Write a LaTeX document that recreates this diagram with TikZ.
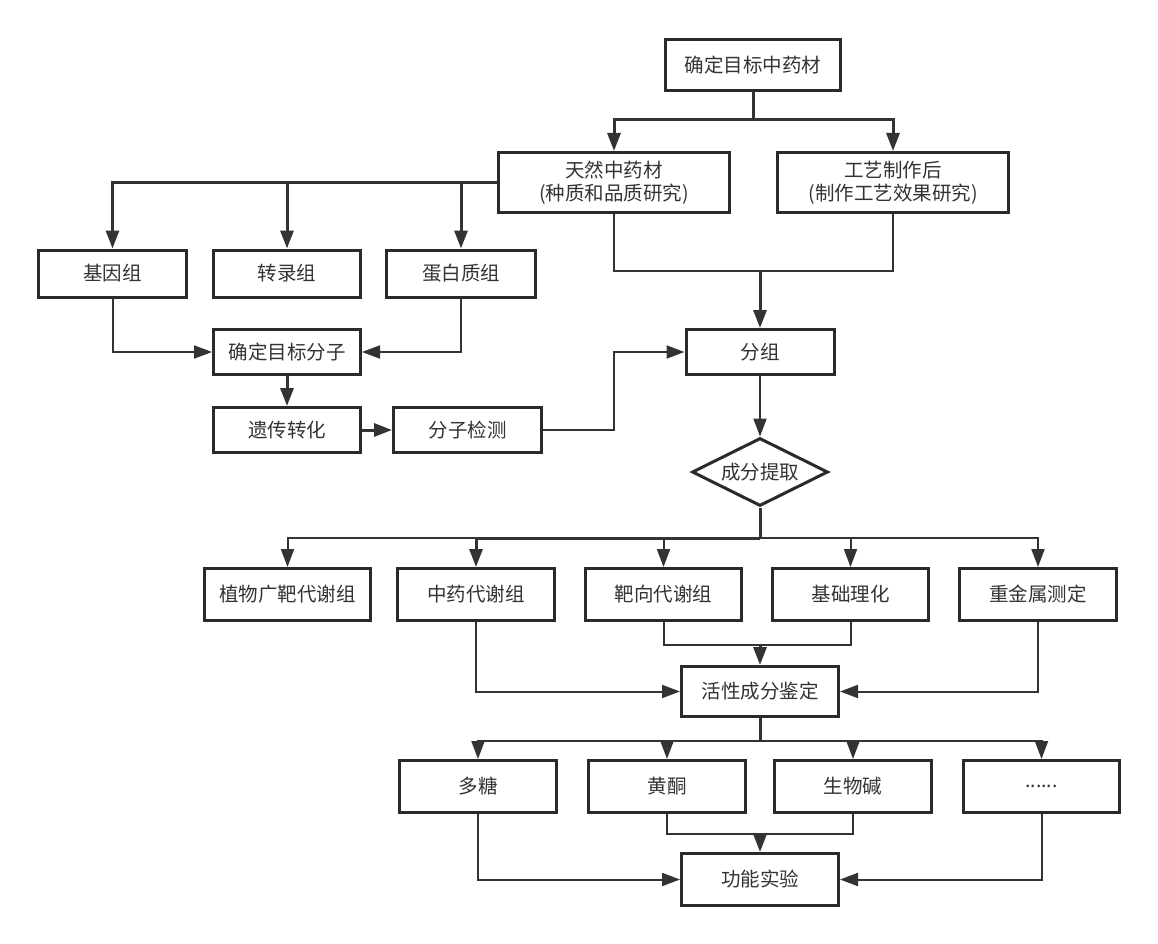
\documentclass[tikz,border=0pt]{standalone}
\usepackage{fontspec}
\setmainfont{Noto Sans CJK SC}
\usetikzlibrary{arrows.meta,shapes.geometric}
\definecolor{bd}{HTML}{262B30}
\definecolor{ln}{HTML}{333333}
\definecolor{tx}{HTML}{333333}
\begin{document}
\begin{tikzpicture}[x=1pt,y=-1pt,
  box/.style={draw=bd,line width=3pt,fill=white,inner sep=0pt,text=tx,
    font=\fontsize{19.5}{23}\selectfont,align=center},
  thinln/.style={draw=ln,line width=2pt},
  thickln/.style={draw=ln,line width=3pt},
  arr/.style={-{Triangle[length=18pt,width=13pt]}},
]
\useasboundingbox (0,0) rectangle (1158,944);
\fill[white] (0,0) rectangle (1158,944);

% nodes
\node[box,minimum width=175pt,minimum height=51pt] (top) at (753,65) {确定目标中药材};
\node[box,minimum width=231pt,minimum height=60pt] (tr) at (614,182.5) {天然中药材\\(种质和品质研究)};
\node[box,minimum width=231pt,minimum height=60pt] (pr) at (893,182.5) {工艺制作后\\(制作工艺效果研究)};

\node[box,minimum width=148pt,minimum height=47pt] (g1) at (112.5,273.5) {基因组};
\node[box,minimum width=147pt,minimum height=47pt] (g2) at (287,273.5) {转录组};
\node[box,minimum width=149pt,minimum height=47pt] (g3) at (461,273.5) {蛋白质组};

\node[box,minimum width=147pt,minimum height=45pt] (mol) at (287,352) {确定目标分子};
\node[box,minimum width=147pt,minimum height=45pt] (gen) at (287,430) {遗传转化};
\node[box,minimum width=148pt,minimum height=45pt] (det) at (467.5,430) {分子检测};

\node[box,minimum width=148pt,minimum height=45pt] (grp) at (760,352) {分组};
\node[box,diamond,aspect=2,minimum width=136pt,minimum height=68pt] (dia) at (760,472) {成分提取};

\node[box,minimum width=166pt,minimum height=52pt] (m1) at (287.5,594.5) {植物广靶代谢组};
\node[box,minimum width=157pt,minimum height=52pt] (m2) at (476,594.5) {中药代谢组};
\node[box,minimum width=156pt,minimum height=52pt] (m3) at (663.5,594.5) {靶向代谢组};
\node[box,minimum width=156pt,minimum height=52pt] (m4) at (850.5,594.5) {基础理化};
\node[box,minimum width=157pt,minimum height=52pt] (m5) at (1038,594.5) {重金属测定};

\node[box,minimum width=157pt,minimum height=50pt] (act) at (760,691.5) {活性成分鉴定};

\node[box,minimum width=157pt,minimum height=52pt] (b1) at (478,786.5) {多糖};
\node[box,minimum width=157pt,minimum height=52pt] (b2) at (667,786.5) {黄酮};
\node[box,minimum width=157pt,minimum height=52pt] (b3) at (853,786.5) {生物碱};
\node[box,minimum width=156pt,minimum height=52pt] (b4) at (1041.5,786.5) {......};

\node[box,minimum width=157pt,minimum height=52pt] (fun) at (760,879.5) {功能实验};

% junctions
\coordinate (j1) at (760,271);
\coordinate (j2) at (760,538);
\coordinate (j3) at (760,645);
\coordinate (j4) at (760,741);
\coordinate (j5) at (760,834);

% connectors
\draw[thickln,arr] (top.south) -- ++(0,28) -| (tr.north);
\draw[thickln,arr] (top.south) -- ++(0,28) -| (pr.north);

\draw[thickln,arr] (tr.west) -| (g1.north);
\draw[thickln,arr] (tr.west) -| (g2.north);
\draw[thickln,arr] (tr.west) -| (g3.north);

\draw[thinln,arr] (g1.south) |- (mol.west);
\draw[thinln,arr] (g3.south) |- (mol.east);
\draw[thickln,arr] (mol.south) -- (gen.north);
\draw[thickln,arr] (gen.east) -- (det.west);
\draw[thinln,arr] (det.east) -- ++(71,0) |- (grp.west);

\draw[thinln] (tr.south) |- (j1);
\draw[thinln] (pr.south) |- (j1);
\draw[thickln,arr] (j1) -- (grp.north);

\draw[thinln,arr] (grp.south) -- (dia.north);
\draw[thickln] (dia.south) -- (j2);
\draw[thinln,arr] (j2) -| (m1.north);
\draw[thickln,arr] (j2) -| (m2.north);
\draw[thinln,arr] (j2) -| (m3.north);
\draw[thinln,arr] (j2) -| (m4.north);
\draw[thinln,arr] (j2) -| (m5.north);

\draw[thinln,arr] (m2.south) |- (act.west);
\draw[thinln] (m3.south) |- (j3);
\draw[thinln] (m4.south) |- (j3);
\draw[thickln,arr] (j3) -- (act.north);
\draw[thinln,arr] (m5.south) |- (act.east);

\draw[thickln] (act.south) -- (j4);
\draw[thinln,arr] (j4) -| (b1.north);
\draw[thinln,arr] (j4) -| (b2.north);
\draw[thinln,arr] (j4) -| (b3.north);
\draw[thinln,arr] (j4) -| (b4.north);

\draw[thinln,arr] (b1.south) |- (fun.west);
\draw[thinln] (b2.south) |- (j5);
\draw[thinln] (b3.south) |- (j5);
\draw[thickln,arr] (j5) -- (fun.north);
\draw[thinln,arr] (b4.south) |- (fun.east);
\end{tikzpicture}
\end{document}
